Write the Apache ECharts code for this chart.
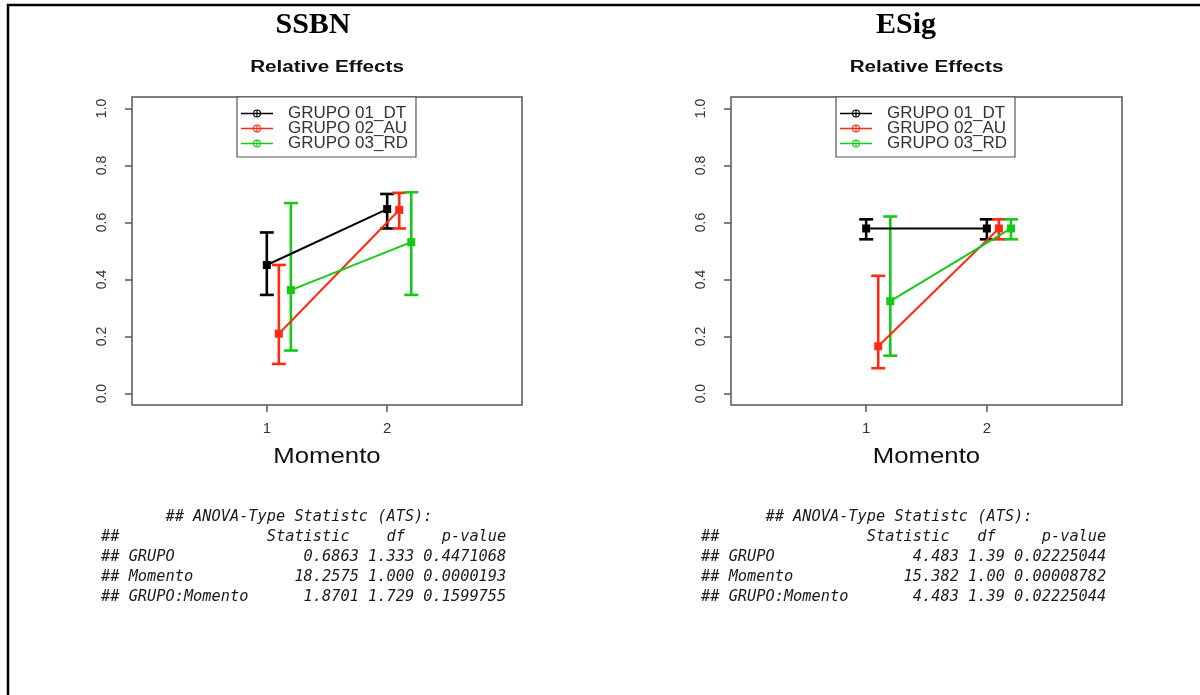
<!DOCTYPE html>
<html>
<head>
<meta charset="utf-8">
<script src="https://cdn.jsdelivr.net/npm/echarts@6/dist/echarts.min.js"></script>
<style>
  html, body { margin: 0; padding: 0; background: #fff; }
  #chart { width: 1200px; height: 695px; }
</style>
</head>
<body>
<div id="chart"></div>
<script>
// ---- data ----
const momentos = [1, 2];
const grupos = ['GRUPO 01_DT', 'GRUPO 02_AU', 'GRUPO 03_RD'];
const yTicks = [0, 0.2, 0.4, 0.6, 0.8, 1.0];

// SSBN: relative effect and its confidence limits, per moment
const ssbnDT = [0.451, 0.647];
const ssbnDTLow = [0.346, 0.579];
const ssbnDTHigh = [0.565, 0.700];
const ssbnAU = [0.210, 0.644];
const ssbnAULow = [0.104, 0.579];
const ssbnAUHigh = [0.451, 0.704];
const ssbnRD = [0.363, 0.531];
const ssbnRDLow = [0.151, 0.346];
const ssbnRDHigh = [0.668, 0.706];

// ESig: relative effect and its confidence limits, per moment
const esigDT = [0.579, 0.579];
const esigDTLow = [0.541, 0.541];
const esigDTHigh = [0.611, 0.611];
const esigAU = [0.166, 0.579];
const esigAULow = [0.089, 0.541];
const esigAUHigh = [0.413, 0.611];
const esigRD = [0.324, 0.579];
const esigRDLow = [0.133, 0.541];
const esigRDHigh = [0.621, 0.611];

// ANOVA-type statistic tables
const atsRows = ['GRUPO', 'Momento', 'GRUPO:Momento'];
const ssbnStat = ['0.6863', '18.2575', '1.8701'];
const ssbnDf = ['1.333', '1.000', '1.729'];
const ssbnP = ['0.4471068', '0.0000193', '0.1599755'];
const esigStat = ['4.483', '15.382', '4.483'];
const esigDf = ['1.39', '1.00', '1.39'];
const esigP = ['0.02225044', '0.00008782', '0.02225044'];

// ---- styling / layout ----
const colors = ['#000000', '#ff2a12', '#17c917'];
const dodge = 0.1;            // horizontal shift between groups
const panels = [
  { title: 'SSBN', left: 132, width: 390,
    mean: [ssbnDT, ssbnAU, ssbnRD], low: [ssbnDTLow, ssbnAULow, ssbnRDLow], high: [ssbnDTHigh, ssbnAUHigh, ssbnRDHigh],
    stat: ssbnStat, df: ssbnDf, p: ssbnP, header: '##                Statistic    df    p-value', textLeft: 101 },
  { title: 'ESig', left: 731, width: 391,
    mean: [esigDT, esigAU, esigRD], low: [esigDTLow, esigAULow, esigRDLow], high: [esigDTHigh, esigAUHigh, esigRDHigh],
    stat: esigStat, df: esigDf, p: esigP, header: '##                Statistic   df     p-value', textLeft: 701 }
];
const gridTop = 97, gridHeight = 308;
const axisGray = '#555';
const sans = 'Liberation Sans, Arial, sans-serif';
const mono = 'DejaVu Sans Mono, Liberation Mono, monospace';

function renderErrorBar(params, api) {
  const x = api.value(0);
  const top = api.coord([x, api.value(2)]);
  const bot = api.coord([x, api.value(1)]);
  const hw = 7;
  const style = { stroke: api.visual('color'), lineWidth: 2.6 };
  return {
    type: 'group',
    children: [
      { type: 'line', shape: { x1: top[0], y1: top[1], x2: bot[0], y2: bot[1] }, style },
      { type: 'line', shape: { x1: top[0] - hw, y1: top[1], x2: top[0] + hw, y2: top[1] }, style },
      { type: 'line', shape: { x1: bot[0] - hw, y1: bot[1], x2: bot[0] + hw, y2: bot[1] }, style }
    ]
  };
}

// line + circled-plus marker for legend entries
const legendIcon = 'path://M0 3.3H32V4.7H0Z' +
  'M16 0A4 4 0 1 1 16 8A4 4 0 1 1 16 0Z' +
  'M16 1.1A2.9 2.9 0 1 0 16 6.9A2.9 2.9 0 1 0 16 1.1Z' +
  'M15.45 0.3H16.55V7.7H15.45Z';

const grids = [], xAxes = [], yAxes = [], series = [], legends = [], graphics = [];

panels.forEach((pn, k) => {
  grids.push({ left: pn.left, top: gridTop, width: pn.width, height: gridHeight,
    show: true, borderColor: axisGray, borderWidth: 1.5, backgroundColor: '#fff',
    containLabel: false, outerBoundsMode: 'none' });
  xAxes.push({ gridIndex: k, type: 'value', min: -0.12, max: 3.12,
    axisLine: { show: false, onZero: false }, splitLine: { show: false },
    axisTick: { show: true, inside: false, customValues: momentos, length: 7, lineStyle: { color: axisGray, width: 1.5 } },
    axisLabel: { inside: false, customValues: momentos, formatter: v => String(v), margin: 16,
      color: '#333', fontSize: 15, fontFamily: sans } });
  yAxes.push({ gridIndex: k, type: 'value', min: -0.04, max: 1.04,
    axisLine: { show: false, onZero: false }, splitLine: { show: false },
    axisTick: { show: true, inside: false, customValues: yTicks, length: 7, lineStyle: { color: axisGray, width: 1.5 } },
    axisLabel: { inside: false, customValues: yTicks, formatter: v => v.toFixed(1), rotate: 90, margin: 23,
      color: '#333', fontSize: 14, fontFamily: sans } });

  grupos.forEach((g, i) => {
    const xs = momentos.map(m => m + i * dodge);
    series.push({
      type: 'custom', xAxisIndex: k, yAxisIndex: k, renderItem: renderErrorBar,
      itemStyle: { color: colors[i] }, encode: { x: 0, y: [1, 2] }, silent: true,
      data: xs.map((x, j) => [x, pn.low[i][j], pn.high[i][j]])
    });
    series.push({
      name: g, type: 'line', xAxisIndex: k, yAxisIndex: k,
      symbol: 'rect', symbolSize: 8, color: colors[i],
      lineStyle: { width: 2, color: colors[i] }, itemStyle: { color: colors[i] },
      silent: true, animation: false,
      data: xs.map((x, j) => [x, pn.mean[i][j]])
    });
  });

  legends.push({
    left: pn.left + 105, top: gridTop, orient: 'vertical', selectedMode: false,
    itemWidth: 32, itemHeight: 8, itemGap: -2, padding: [8, 8, 5, 4],
    borderColor: axisGray, borderWidth: 1.2, backgroundColor: '#fff',
    data: grupos.map(g => ({ name: g, icon: legendIcon })),
    textStyle: { fontFamily: sans, fontSize: 17, color: '#333', lineHeight: 15, padding: [0, 0, 0, 10] }
  });

  const cx = pn.left + pn.width / 2;
  graphics.push(
    { type: 'text', x: k === 0 ? 313 : 906, y: 25,
      style: { text: pn.title, font: 'bold 30px "Liberation Serif", "Times New Roman", serif',
        fill: '#000', textAlign: 'center', textVerticalAlign: 'middle' } },
    { type: 'text', x: cx, y: 68, scaleX: 1.29,
      style: { text: 'Relative Effects', font: 'bold 16px ' + sans,
        fill: '#111', textAlign: 'center', textVerticalAlign: 'middle' } },
    { type: 'text', x: cx, y: 457, scaleX: 1.17,
      style: { text: 'Momento', font: '22px ' + sans,
        fill: '#111', textAlign: 'center', textVerticalAlign: 'middle' } }
  );

  // ANOVA-type statistic table
  const W = 44;
  const lines = ['       ## ANOVA-Type Statistc (ATS):', pn.header];
  atsRows.forEach((r, j) => {
    const right = pn.stat[j] + ' ' + pn.df[j] + ' ' + pn.p[j];
    lines.push(('## ' + r).padEnd(W - right.length) + right);
  });
  lines.forEach((t, j) => {
    graphics.push({ type: 'text', x: pn.textLeft, y: 517 + j * 20,
      style: { text: t, font: 'italic 15.3px ' + mono, fill: '#1a1a1a',
        textAlign: 'left', textVerticalAlign: 'middle' } });
  });
});

// page frame (top and left rules)
graphics.push({ type: 'polyline', shape: { points: [[8, 700], [8, 5], [1205, 5]] },
  style: { stroke: '#000', lineWidth: 2.5, fill: null } });

const chart = echarts.init(document.getElementById('chart'), null, { renderer: 'canvas' });
chart.setOption({
  animation: false,
  backgroundColor: '#fff',
  grid: grids,
  xAxis: xAxes,
  yAxis: yAxes,
  legend: legends,
  series: series,
  graphic: { elements: graphics }
});
</script>
</body>
</html>
